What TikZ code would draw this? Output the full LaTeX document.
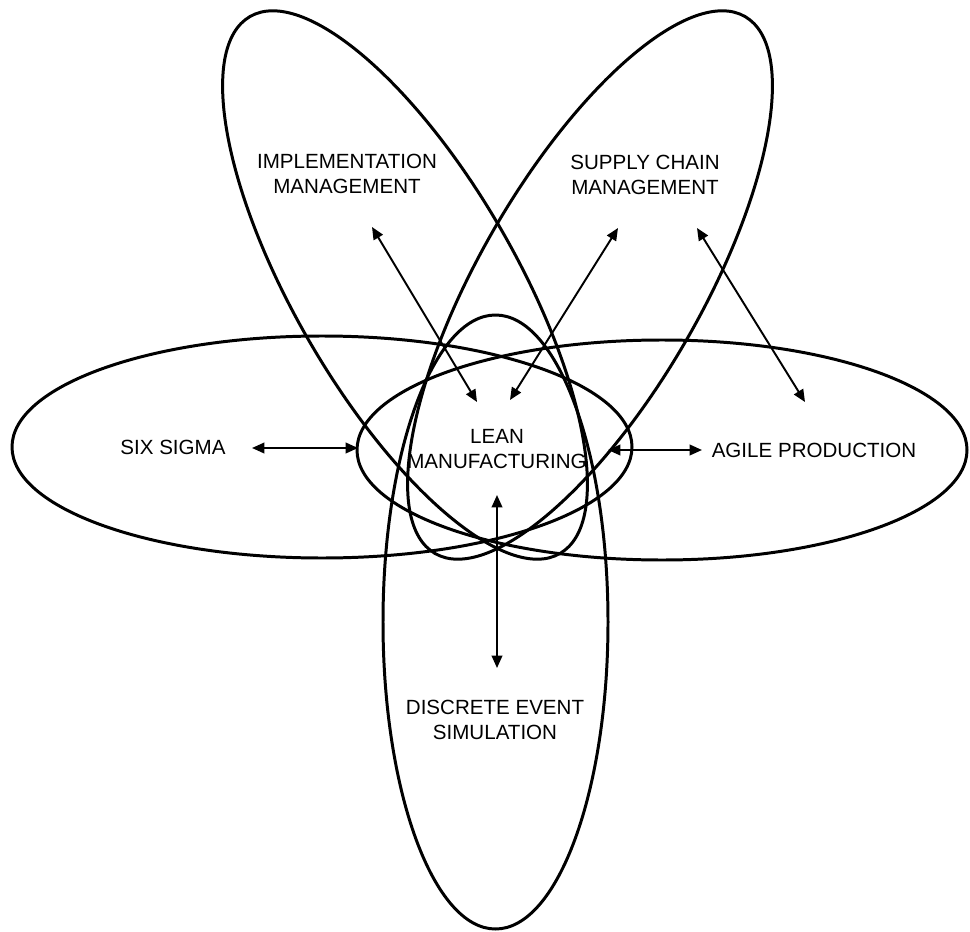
\documentclass[tikz,border=0pt]{standalone}
\usepackage{fontspec}
\setmainfont{Liberation Sans}
\usetikzlibrary{arrows.meta, positioning, calc}

\begin{document}
\begin{tikzpicture}[x=0.02cm, y=0.02cm,
	petal/.style={line width=1.7pt},
	link/.style={line width=1.1pt, {Triangle[length=7pt,width=6pt]}-{Triangle[length=7pt,width=6pt]}},
	lbl/.style={align=center, inner sep=0pt, font=\fontsize{11.7}{13.8}\selectfont}]
	\useasboundingbox (0,0) rectangle (970,931);
	\foreach \cx/\cy/\rx/\ry/\r in {322/484/310/111/0, 662/481/305/110/0, 495.5/309/112.5/307/0, 405/646/310/111/-60, 590/646/310/111/60}
		{\draw[petal, rotate around={\r:(\cx,\cy)}] (\cx,\cy) ellipse ({\rx} and {\ry});}
	\node[lbl] (lean) at (497,482) {LEAN\\MANUFACTURING};
	\node[lbl] (six) at (173,484) {SIX SIGMA};
	\node[lbl] (agile) at (814,481) {AGILE PRODUCTION};
	\node[lbl] (impl) at (347,757) {IMPLEMENTATION\\MANAGEMENT};
	\node[lbl] (supply) at (645,756) {SUPPLY CHAIN\\MANAGEMENT};
	\node[lbl] (des) at (495,211) {DISCRETE EVENT\\SIMULATION};
	\coordinate (six-a) at (252,483);  \coordinate (six-b) at (358,483);
	\coordinate (agile-a) at (608,481); \coordinate (agile-b) at (702,481);
	\coordinate (des-a) at (497,436);  \coordinate (des-b) at (497,263);
	\coordinate (impl-a) at (372,704); \coordinate (impl-b) at (477,529);
	\coordinate (sup-a) at (618,703);  \coordinate (sup-b) at (510,531);
	\coordinate (sup-c) at (697,703);  \coordinate (sup-d) at (805,529);
	\draw[link] (six-a) -- (six-b);
	\draw[link] (agile-a) -- (agile-b);
	\draw[link] (des-a) -- (des-b);
	\draw[link] (impl-a) -- (impl-b);
	\draw[link] (sup-a) -- (sup-b);
	\draw[link] (sup-c) -- (sup-d);
\end{tikzpicture}
\end{document}
